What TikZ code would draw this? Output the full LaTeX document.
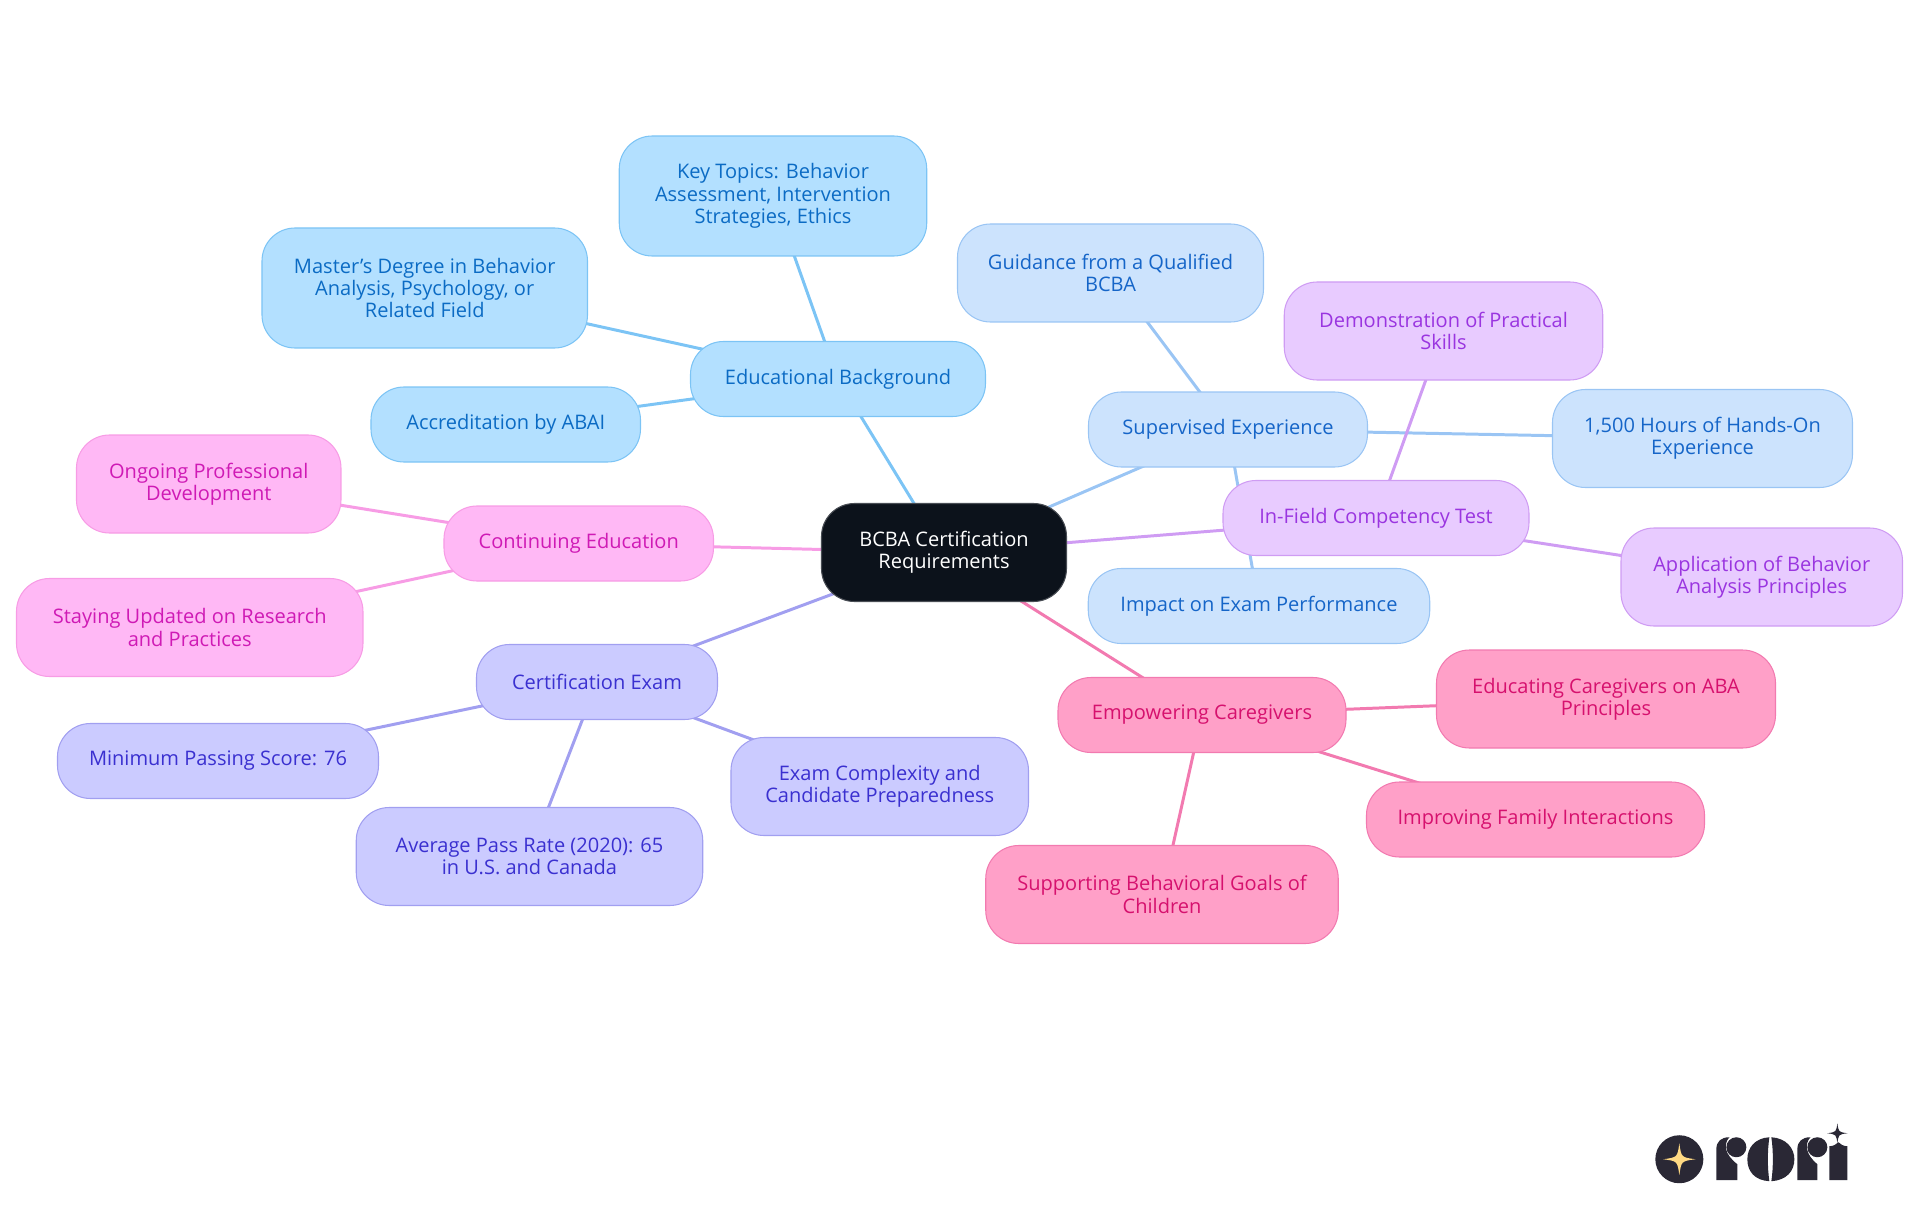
\documentclass[tikz,border=0pt]{standalone}
\usepackage{fontspec}
\setmainfont{Open Sans}
\usetikzlibrary{positioning, backgrounds}
\definecolor{rootfill}{HTML}{0C121B}
\definecolor{edufill}{HTML}{B3E0FF}
\definecolor{edustroke}{HTML}{7CC4F5}
\definecolor{edutext}{HTML}{0B6BC4}
\definecolor{supfill}{HTML}{CCE3FD}
\definecolor{supstroke}{HTML}{9AC5F4}
\definecolor{suptext}{HTML}{1565C8}
\definecolor{fieldfill}{HTML}{E8CBFF}
\definecolor{fieldstroke}{HTML}{CF9CF3}
\definecolor{fieldtext}{HTML}{9A35E0}
\definecolor{carefill}{HTML}{FFA0C8}
\definecolor{carestroke}{HTML}{F27AB0}
\definecolor{caretext}{HTML}{D6116E}
\definecolor{contfill}{HTML}{FFB8F5}
\definecolor{contstroke}{HTML}{F79CE5}
\definecolor{conttext}{HTML}{CF1AB5}
\definecolor{examfill}{HTML}{CBCBFF}
\definecolor{examstroke}{HTML}{A19FF0}
\definecolor{examtext}{HTML}{3A30D0}
\definecolor{logoink}{HTML}{2A2835}
\definecolor{logostar}{HTML}{FFD983}
\newcommand{\sparkle}[4]{\fill[#4] (#1,#2-#3) .. controls (#1+.12*#3,#2-.12*#3) .. (#1+#3,#2) .. controls (#1+.12*#3,#2+.12*#3) .. (#1,#2+#3) .. controls (#1-.12*#3,#2+.12*#3) .. (#1-#3,#2) .. controls (#1-.12*#3,#2-.12*#3) .. cycle;}

\begin{document}
\begin{tikzpicture}[
            mapbox/.style={rounded corners=0.66cm, line width=0.6pt, inner sep=0pt, outer sep=0pt, align=center, minimum height=1.5cm, font=\fontsize{11.4}{12.7}\selectfont},
            twoline/.style={minimum height=1.96cm},
            threeline/.style={minimum height=2.4cm},
            rootbox/.style={mapbox, draw=rootfill!75!white, fill=rootfill, text=white},
            edubox/.style={mapbox, draw=edustroke, fill=edufill, text=edutext},
            supbox/.style={mapbox, draw=supstroke, fill=supfill, text=suptext},
            fieldbox/.style={mapbox, draw=fieldstroke, fill=fieldfill, text=fieldtext},
            carebox/.style={mapbox, draw=carestroke, fill=carefill, text=caretext},
            contbox/.style={mapbox, draw=contstroke, fill=contfill, text=conttext},
            exambox/.style={mapbox, draw=examstroke, fill=examfill, text=examtext},
            link/.style={line width=1.7pt}
        ]
            \useasboundingbox (-18.88,-13.25) rectangle (19.52,11.05);

            % Centre of the map
            \node[rootbox, twoline, minimum width=4.9cm] (root) {BCBA Certification\\Requirements};

            % Educational background
            \node[edubox, minimum width=5.9cm, above=1.74cm of root, xshift=-2.12cm] (edu) {Educational Background};
            \node[edubox, threeline, minimum width=6.15cm, above=1.71cm of edu, xshift=-1.3cm] (topics) {Key Topics: Behavior\\Assessment, Intervention\\Strategies, Ethics};
            \node[edubox, threeline, minimum width=6.51cm, left=2.06cm of edu, yshift=1.82cm] (degree) {Master's Degree in Behavior\\Analysis, Psychology, or\\Related Field};
            \node[edubox, minimum width=5.39cm, left=1cm of edu, yshift=-0.91cm] (abai) {Accreditation by ABAI};

            % Supervised experience
            \node[supbox, minimum width=5.58cm, right=0.44cm of root, yshift=2.46cm] (super) {Supervised Experience};
            \node[supbox, twoline, minimum width=6.12cm, above=1.4cm of super, xshift=-2.35cm] (guidance) {Guidance from a Qualified\\BCBA};
            \node[supbox, twoline, minimum width=6cm, right=3.7cm of super, yshift=-0.18cm] (hours) {1,500 Hours of Hands-On\\Experience};
            \node[supbox, minimum width=6.83cm, below=2.03cm of super, xshift=0.62cm] (impact) {Impact on Exam Performance};

            % In-field test
            \node[fieldbox, minimum width=6.12cm, right=3.13cm of root, yshift=0.69cm] (field) {In-Field Competency Test};
            \node[fieldbox, twoline, minimum width=6.37cm, above=2.01cm of field, xshift=1.35cm] (skills) {Demonstration of Practical\\Skills};
            \node[fieldbox, twoline, minimum width=5.63cm, right=1.84cm of field, yshift=-1.18cm] (applied) {Application of Behavior\\Analysis Principles};

            % Continuing education
            \node[contbox, minimum width=5.39cm, left=2.16cm of root, yshift=0.18cm] (cont) {Continuing Education};
            \node[contbox, twoline, minimum width=5.29cm, left=2.06cm of cont, yshift=1.19cm] (ongoing) {Ongoing Professional\\Development};
            \node[contbox, twoline, minimum width=6.93cm, left=1.62cm of cont, yshift=-1.68cm] (updated) {Staying Updated on Research\\and Practices};

            % Certification exam
            \node[exambox, minimum width=4.82cm, below=0.86cm of root, xshift=-6.94cm] (exam) {Certification Exam};
            \node[exambox, minimum width=6.42cm, left=1.96cm of exam, yshift=-1.58cm] (score) {Minimum Passing Score: 76};
            \node[exambox, twoline, minimum width=6.93cm, below=1.76cm of exam, xshift=-1.35cm] (rate) {Average Pass Rate (2020): 65\\in U.S. and Canada};
            \node[exambox, twoline, minimum width=5.95cm, right=0.27cm of exam, yshift=-2.09cm] (complex) {Exam Complexity and\\Candidate Preparedness};

            % Empowering caregivers
            \node[carebox, minimum width=5.76cm, below=1.52cm of root, xshift=5.16cm] (care) {Empowering Caregivers};
            \node[carebox, twoline, minimum width=6.78cm, right=1.81cm of care, yshift=0.32cm] (educating) {Educating Caregivers on ABA\\Principles};
            \node[carebox, minimum width=6.76cm, below=0.59cm of care, xshift=6.67cm] (family) {Improving Family Interactions};
            \node[carebox, twoline, minimum width=7.05cm, below=1.86cm of care, xshift=-0.8cm] (goals) {Supporting Behavioral Goals of\\Children};

            \begin{scope}[on background layer]
                \draw[link, edustroke] (root.center) -- (edu.center);
                \draw[link, edustroke] (edu.center) -- (topics.center);
                \draw[link, edustroke] (edu.center) -- (degree.center);
                \draw[link, edustroke] (edu.center) -- (abai.center);
                \draw[link, supstroke] (root.center) -- (super.center);
                \draw[link, supstroke] (super.center) -- (guidance.center);
                \draw[link, supstroke] (super.center) -- (hours.center);
                \draw[link, supstroke] (super.center) -- (impact.center);
                \draw[link, fieldstroke] (root.center) -- (field.center);
                \draw[link, fieldstroke] (field.center) -- (skills.center);
                \draw[link, fieldstroke] (field.center) -- (applied.center);
                \draw[link, contstroke] (root.center) -- (cont.center);
                \draw[link, contstroke] (cont.center) -- (ongoing.center);
                \draw[link, contstroke] (cont.center) -- (updated.center);
                \draw[link, examstroke] (root.center) -- (exam.center);
                \draw[link, examstroke] (exam.center) -- (score.center);
                \draw[link, examstroke] (exam.center) -- (rate.center);
                \draw[link, examstroke] (exam.center) -- (complex.center);
                \draw[link, carestroke] (root.center) -- (care.center);
                \draw[link, carestroke] (care.center) -- (educating.center);
                \draw[link, carestroke] (care.center) -- (family.center);
                \draw[link, carestroke] (care.center) -- (goals.center);
            \end{scope}

            % Logo, in pixels of the page
            \begin{scope}[shift={(-18.88,11.07)}, x=0.02cm, y=-0.02cm]
                \fill[logoink] (1679,1160) circle [radius=24];
                \sparkle{1679}{1160}{16}{logostar}
                % first r
                \fill[logoink] (1716,1181) -- (1716,1150) .. controls (1716,1142) and (1721,1138) .. (1729,1138) .. controls (1723,1145) and (1724,1155) .. (1737,1165) -- (1737,1181) -- cycle;
                \fill[logoink] (1736,1148) circle [radius=10];
                % o
                \fill[logoink] (1769,1138) .. controls (1754,1139) and (1747,1149) .. (1747,1160) .. controls (1747,1172) and (1754,1181) .. (1769,1182) .. controls (1767,1168) and (1767,1152) .. (1769,1138) -- cycle;
                \fill[logoink] (1771,1138) .. controls (1786,1139) and (1794,1149) .. (1794,1160) .. controls (1794,1172) and (1786,1181) .. (1771,1182) .. controls (1773,1168) and (1773,1152) .. (1771,1138) -- cycle;
                % second r
                \fill[logoink] (1797,1181) -- (1797,1150) .. controls (1797,1142) and (1802,1138) .. (1810,1138) .. controls (1804,1145) and (1805,1155) .. (1817,1165) -- (1817,1181) -- cycle;
                \fill[logoink] (1817,1148) circle [radius=10];
                % i with its star
                \fill[logoink] (1829,1181) -- (1829,1147) .. controls (1833,1147) and (1836,1145) .. (1838,1143) .. controls (1840,1145) and (1843,1147) .. (1847,1147) -- (1847,1181) -- cycle;
                \sparkle{1837}{1134}{10}{logoink}
            \end{scope}
        \end{tikzpicture}
\end{document}
